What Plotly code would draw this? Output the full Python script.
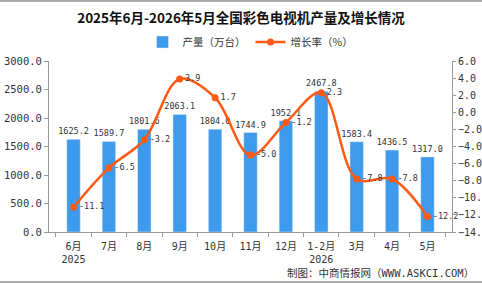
import plotly.graph_objects as go

categories = ["6月<br>2025", "7月", "8月", "9月", "10月", "11月", "12月", "1-2月<br>2026", "3月", "4月", "5月"]
output = [1625.2, 1589.7, 1801.6, 2063.1, 1804.0, 1744.9, 1952.1, 2467.8, 1583.4, 1436.5, 1317.0]
growth = [-11.1, -6.5, -3.2, 3.9, 1.7, -5.0, -1.2, 2.3, -7.8, -7.8, -12.2]

FONT = "Noto Sans CJK SC"
MONO = "DejaVu Sans Mono, Noto Sans CJK SC"
BAR_C = "#3d9aec"
LINE_C = "#ff5a14"
TXT = "#333333"

fig = go.Figure()
fig.add_trace(go.Bar(
    x=categories, y=output, name="产量（万台）",
    marker=dict(color=BAR_C), width=0.38,
    text=[f"{v:.1f}" for v in output], textposition="outside",
    constraintext="none",
    textfont=dict(size=8.5, color=TXT, family=MONO),
    cliponaxis=False,
))
fig.add_trace(go.Scatter(
    x=categories, y=growth, name="增长率（%）", yaxis="y2",
    mode="lines+markers+text",
    line=dict(color=LINE_C, width=2.5, shape="spline", smoothing=1.0),
    marker=dict(color=LINE_C, size=7),
    text=[f"{v:.1f}" for v in growth], textposition="middle right",
    textfont=dict(size=8.5, color=TXT, family=MONO),
    cliponaxis=False,
))

H_PLOT = 171.0
W_PLOT = 403.0
fig.update_layout(
    width=482, height=284,
    margin=dict(l=49, r=30, t=61, b=52, autoexpand=False),
    paper_bgcolor="white", plot_bgcolor="white",
    font=dict(family=FONT, size=10, color=TXT),
    title=dict(text="<b>2025年6月-2026年5月全国彩色电视机产量及增长情况</b>",
               x=0.5, xanchor="center", y=0.936, yanchor="middle",
               font=dict(size=13.5, color="#111111", family=FONT)),
    legend=dict(orientation="h", x=0.5, xanchor="center", y=(232 - 42) / H_PLOT, yanchor="middle",
                font=dict(size=10.5, color=TXT, family=FONT), bgcolor="rgba(0,0,0,0)",
                itemwidth=30),
    showlegend=True,
    xaxis=dict(showline=True, linecolor="#999999", ticks="outside", tickson="boundaries",
               tickcolor="#999999", ticklen=4, ticklabelstandoff=5, tickangle=0,
               automargin=False,
               tickfont=dict(size=10, color=TXT, family=MONO),
               showgrid=False),
    yaxis=dict(range=[0, 3000], dtick=500, tickformat=".1f", showline=True,
               linecolor="#999999", ticks="outside", tickcolor="#999999", ticklen=4,
               showgrid=False, zeroline=False, automargin=False,
               tickfont=dict(size=10.5, color=TXT, family=MONO)),
    yaxis2=dict(range=[-14, 6], dtick=2, tickformat=".1f", overlaying="y", side="right",
                showline=True, linecolor="#999999", ticks="outside", tickcolor="#999999",
                ticklen=3, showgrid=False, zeroline=False, automargin=False,
                tickfont=dict(size=10, color=TXT, family=MONO)),
    annotations=[dict(text="制图：中商情报网（WWW.ASKCI.COM）", xref="paper", yref="paper",
                      x=(476 - 49) / W_PLOT, y=(232 - 273) / H_PLOT, xanchor="right",
                      yanchor="middle", showarrow=False,
                      font=dict(size=10.5, color=TXT, family=MONO))],
    shapes=[
        dict(type="line", xref="paper", yref="paper", x0=-49 / W_PLOT, x1=(482 - 49) / W_PLOT,
             y0=(232 - 1) / H_PLOT, y1=(232 - 1) / H_PLOT, line=dict(color="#aaaaaa", width=2)),
        dict(type="line", xref="paper", yref="paper", x0=-49 / W_PLOT, x1=(482 - 49) / W_PLOT,
             y0=(232 - 282) / H_PLOT, y1=(232 - 282) / H_PLOT, line=dict(color="#aaaaaa", width=2)),
    ],
)

fig.write_html("out.html")
